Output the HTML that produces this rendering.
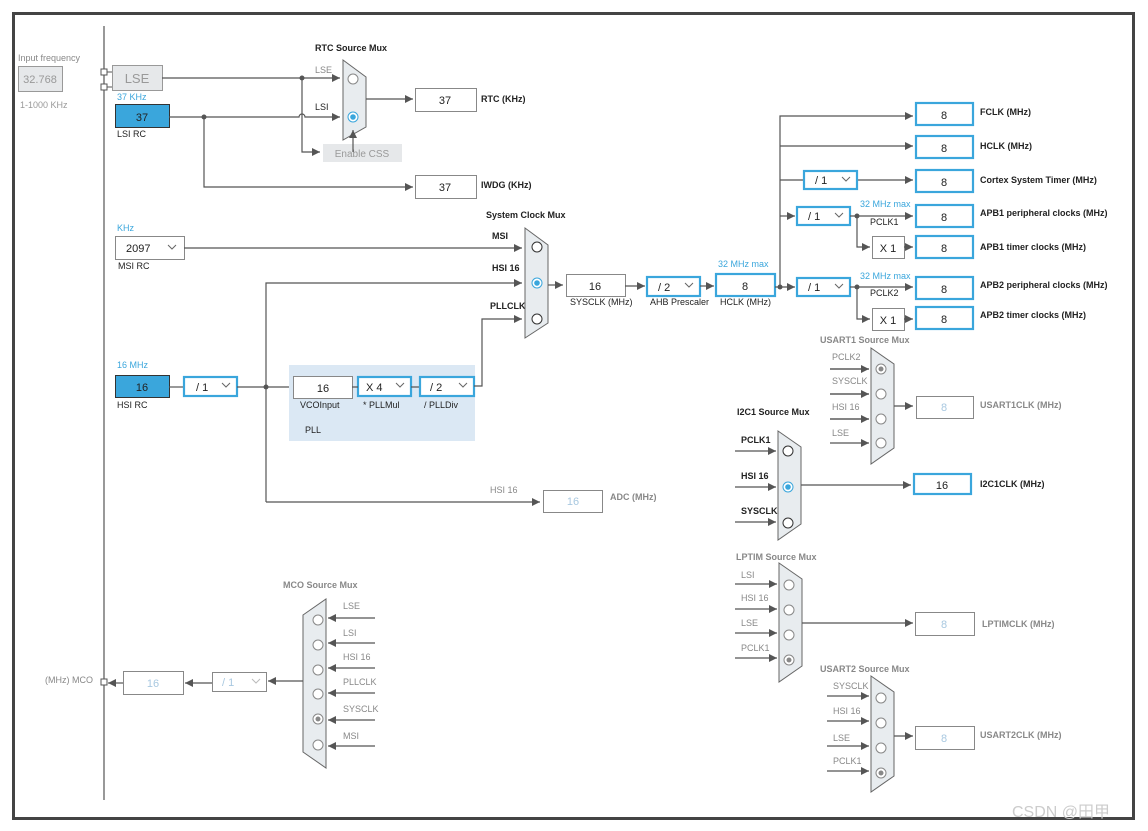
<!DOCTYPE html>
<html><head><meta charset="utf-8"><style>
body{margin:0;background:#fff}
svg{display:block}
text{font-family:"Liberation Sans","Noto Sans CJK SC",sans-serif;font-size:9px;fill:#222}
.b{font-weight:bold}
.g{fill:#888}
.bl{fill:#3aa6dc}
.num{font-size:11px;text-anchor:middle}
.gn{font-size:11px;text-anchor:middle;fill:#a8c8e0}
.ln{stroke:#555;stroke-width:1.2;fill:none}
.box{fill:#fff;stroke:#888;stroke-width:1}
.bbox{fill:#fff;stroke:#3aa6dc;stroke-width:2.2}
.mux{fill:#e8ecef;stroke:#666;stroke-width:1}
.c{fill:#fff;stroke:#333;stroke-width:1}
.cg{fill:#fff;stroke:#888;stroke-width:1}
.chev{stroke:#666;fill:none;stroke-width:1}
</style></head><body>
<svg width="1148" height="831" viewBox="0 0 1148 831" xmlns="http://www.w3.org/2000/svg">
<defs>
<marker id="a" viewBox="0 0 10 10" refX="10" refY="5" markerWidth="8" markerHeight="8" markerUnits="userSpaceOnUse" orient="auto"><path d="M0,0 L10,5 L0,10 z" fill="#555"/></marker>
</defs>
<rect x="13.5" y="13.5" width="1120" height="805" fill="none" stroke="#444" stroke-width="3"/>
<line x1="104" y1="26" x2="104" y2="800" stroke="#555" stroke-width="1.2"/>

<!-- input freq -->
<text x="18" y="61" class="g">Input frequency</text>
<rect x="18.5" y="66.5" width="44" height="25" fill="#e6e8ea" stroke="#999"/>
<text x="40" y="83" class="gn" style="fill:#999">32.768</text>
<text x="20" y="108" class="g" style="fill:#999">1-1000 KHz</text>
<rect x="101" y="69" width="6" height="6" fill="#fff" stroke="#555"/>
<rect x="101" y="84" width="6" height="6" fill="#fff" stroke="#555"/>
<line x1="107" y1="72" x2="112" y2="72" stroke="#555"/><line x1="107" y1="87" x2="112" y2="87" stroke="#555"/>
<rect x="112.5" y="65.5" width="50" height="25" fill="#e6e8ea" stroke="#999"/>
<text x="137" y="83" class="gn" style="fill:#999;font-size:13px">LSE</text>
<text x="117" y="100" class="bl">37 KHz</text>
<rect x="115.5" y="104.5" width="54" height="23" fill="#3aa6dc" stroke="#333"/>
<text x="142" y="121" class="num">37</text>
<text x="117" y="137">LSI RC</text>

<!-- RTC -->
<path class="ln" d="M162,78 H340" marker-end="url(#a)"/>
<path class="ln" d="M169,117 H299 a3,3 0 0 1 6,0 H340" marker-end="url(#a)"/>
<circle cx="302" cy="78" r="2.5" fill="#555"/><circle cx="204" cy="117" r="2.5" fill="#555"/>
<path class="ln" d="M302,78 V152 H320" marker-end="url(#a)"/>
<rect x="323" y="144" width="79" height="18" fill="#e6e8ea"/>
<text x="362" y="157" class="g" style="text-anchor:middle;font-size:10px;fill:#999">Enable CSS</text>
<text x="315" y="51" class="b">RTC Source Mux</text>
<text x="315" y="73" class="g">LSE</text><text x="315" y="110">LSI</text>
<polygon class="mux" points="343,60 366,77 366,127 343,140"/>
<path class="ln" d="M353,152 V130" marker-end="url(#a)"/>
<circle class="cg" cx="353" cy="79" r="5"/>
<circle cx="353" cy="117" r="5" fill="#fff" stroke="#3aa6dc"/><circle cx="353" cy="117" r="2.8" fill="#3aa6dc"/>
<path class="ln" d="M366,99 H413" marker-end="url(#a)"/>
<rect class="box" x="415.5" y="88.5" width="61" height="23"/><text x="445" y="104" class="num">37</text>
<text x="481" y="102" class="b">RTC (KHz)</text>
<path class="ln" d="M204,117 V187 H413" marker-end="url(#a)"/>
<rect class="box" x="415.5" y="175.5" width="61" height="23"/><text x="445" y="191" class="num">37</text>
<text x="481" y="188" class="b">IWDG (KHz)</text>

<!-- MSI -->
<text x="117" y="231" class="bl">KHz</text>
<rect class="box" x="115.5" y="236.5" width="69" height="23"/>
<text x="126" y="252" style="font-size:11px">2097</text><path class="chev" d="M168,245 l4,4 l4,-4"/>
<text x="118" y="269">MSI RC</text>
<path class="ln" d="M184,248 H522" marker-end="url(#a)"/>

<!-- sys mux -->
<text x="486" y="218" class="b">System Clock Mux</text>
<text x="492" y="239" class="b">MSI</text><text x="492" y="271" class="b">HSI 16</text><text x="490" y="309" class="b">PLLCLK</text>
<polygon class="mux" points="525,228 548,245 548,323 525,338"/>
<circle class="c" cx="537" cy="247" r="5"/>
<circle cx="537" cy="283" r="5" fill="#fff" stroke="#3aa6dc"/><circle cx="537" cy="283" r="2.8" fill="#3aa6dc"/>
<circle class="c" cx="537" cy="319" r="5"/>

<!-- HSI -->
<text x="117" y="368" class="bl">16 MHz</text>
<rect x="115.5" y="375.5" width="54" height="22" fill="#3aa6dc" stroke="#333"/>
<text x="142" y="391" class="num">16</text>
<text x="117" y="408">HSI RC</text>
<path class="ln" d="M169,387 H184"/>
<rect class="bbox" x="184" y="377" width="53" height="19"/><text x="196" y="391" style="font-size:11px">/ 1</text><path class="chev" d="M222,383 l4,4 l4,-4"/>
<path class="ln" d="M237,387 H293"/>
<circle cx="266" cy="387" r="2.5" fill="#555"/>
<path class="ln" d="M266,502 V283 H522" marker-end="url(#a)"/>
<path class="ln" d="M266,502 H540" marker-end="url(#a)"/>
<text x="490" y="493" class="g">HSI 16</text>
<rect class="box" x="543.5" y="490.5" width="59" height="22"/><text x="573" y="505" class="gn">16</text>
<text x="610" y="500" class="b g">ADC (MHz)</text>

<!-- PLL -->
<rect x="289" y="365" width="186" height="76" fill="#dbe8f4"/>
<rect class="box" x="293.5" y="376.5" width="59" height="22"/><text x="323" y="392" class="num">16</text>
<rect class="bbox" x="358" y="377" width="53" height="19"/><text x="366" y="391" style="font-size:11px">X 4</text><path class="chev" d="M396,383 l4,4 l4,-4"/>
<path class="ln" d="M352,387 H358 M411,387 H420"/>
<rect class="bbox" x="420" y="377" width="54" height="19"/><text x="430" y="391" style="font-size:11px">/ 2</text><path class="chev" d="M459,383 l4,4 l4,-4"/>
<text x="300" y="408">VCOInput</text><text x="363" y="408">* PLLMul</text><text x="424" y="408">/ PLLDiv</text>
<text x="305" y="433">PLL</text>
<path class="ln" d="M474,386 H482 V319 H522" marker-end="url(#a)"/>

<!-- sysclk chain -->
<path class="ln" d="M548,285 H563" marker-end="url(#a)"/>
<rect class="box" x="566.5" y="274.5" width="59" height="22"/><text x="595" y="290" class="num">16</text>
<text x="570" y="305">SYSCLK (MHz)</text>
<path class="ln" d="M625,286 H645" marker-end="url(#a)"/>
<rect class="bbox" x="647" y="277" width="53" height="19"/><text x="658" y="291" style="font-size:11px">/ 2</text><path class="chev" d="M685,283 l4,4 l4,-4"/>
<text x="650" y="305">AHB Prescaler</text>
<path class="ln" d="M700,286 H714" marker-end="url(#a)"/>
<rect class="bbox" x="716" y="274" width="59" height="22"/><text x="745" y="290" class="num">8</text>
<text x="718" y="267" class="bl">32 MHz max</text>
<text x="720" y="305">HCLK (MHz)</text>
<circle cx="780" cy="287" r="2.5" fill="#555"/>
<path class="ln" d="M775,287 H795" marker-end="url(#a)"/>
<path class="ln" d="M780,287 V116 H913" marker-end="url(#a)"/>
<path class="ln" d="M780,146 H913" marker-end="url(#a)"/>
<path class="ln" d="M780,180 H804 M857,180 H913" marker-end="url(#a)"/>
<path class="ln" d="M780,216 H795" marker-end="url(#a)"/>
<rect class="bbox" x="804" y="171" width="53" height="18"/><text x="815" y="184" style="font-size:11px">/ 1</text><path class="chev" d="M842,177 l4,4 l4,-4"/>
<rect class="bbox" x="797" y="207" width="53" height="18"/><text x="808" y="220" style="font-size:11px">/ 1</text><path class="chev" d="M835,213 l4,4 l4,-4"/>
<rect class="bbox" x="797" y="278" width="53" height="18"/><text x="808" y="291" style="font-size:11px">/ 1</text><path class="chev" d="M835,284 l4,4 l4,-4"/>
<path class="ln" d="M850,216 H913" marker-end="url(#a)"/>
<path class="ln" d="M850,287 H913" marker-end="url(#a)"/>
<circle cx="857" cy="216" r="2.5" fill="#555"/><circle cx="857" cy="287" r="2.5" fill="#555"/>
<path class="ln" d="M857,216 V247 H870" marker-end="url(#a)"/>
<path class="ln" d="M857,287 V319 H870" marker-end="url(#a)"/>
<rect class="box" x="872.5" y="236.5" width="32" height="22"/><text x="888" y="252" class="num">X 1</text>
<rect class="box" x="872.5" y="308.5" width="32" height="22"/><text x="888" y="324" class="num">X 1</text>
<path class="ln" d="M904,247 H913" marker-end="url(#a)"/>
<path class="ln" d="M904,319 H913" marker-end="url(#a)"/>
<text x="860" y="207" class="bl">32 MHz max</text><text x="870" y="225">PCLK1</text>
<text x="860" y="279" class="bl">32 MHz max</text><text x="870" y="296">PCLK2</text>
<rect class="bbox" x="916" y="103" width="57" height="22"/><text x="944" y="119" class="num">8</text>
<rect class="bbox" x="916" y="136" width="57" height="22"/><text x="944" y="152" class="num">8</text>
<rect class="bbox" x="916" y="170" width="57" height="22"/><text x="944" y="186" class="num">8</text>
<rect class="bbox" x="916" y="205" width="57" height="22"/><text x="944" y="221" class="num">8</text>
<rect class="bbox" x="916" y="236" width="57" height="22"/><text x="944" y="252" class="num">8</text>
<rect class="bbox" x="916" y="277" width="57" height="22"/><text x="944" y="293" class="num">8</text>
<rect class="bbox" x="916" y="307" width="57" height="22"/><text x="944" y="323" class="num">8</text>
<text x="980" y="115" class="b">FCLK (MHz)</text>
<text x="980" y="149" class="b">HCLK (MHz)</text>
<text x="980" y="183" class="b">Cortex System Timer (MHz)</text>
<text x="980" y="216" class="b">APB1 peripheral clocks (MHz)</text>
<text x="980" y="250" class="b">APB1 timer clocks (MHz)</text>
<text x="980" y="288" class="b">APB2 peripheral clocks (MHz)</text>
<text x="980" y="318" class="b">APB2 timer clocks (MHz)</text>

<!-- USART1 -->
<text x="820" y="343" class="b g">USART1 Source Mux</text>
<text x="832" y="360" class="g">PCLK2</text><text x="832" y="384" class="g">SYSCLK</text><text x="832" y="410" class="g">HSI 16</text><text x="832" y="436" class="g">LSE</text>
<path class="ln" d="M830,369 H869 M830,394 H869 M830,419 H869 M830,443 H869" marker-end="url(#a)"/>
<path class="ln" d="M830,369 H869" marker-end="url(#a)"/><path class="ln" d="M830,394 H869" marker-end="url(#a)"/><path class="ln" d="M830,419 H869" marker-end="url(#a)"/>
<polygon class="mux" points="871,348 894,364 894,448 871,464"/>
<circle class="cg" cx="881" cy="369" r="5"/><circle cx="881" cy="369" r="2.5" fill="#888"/>
<circle class="cg" cx="881" cy="394" r="5"/><circle class="cg" cx="881" cy="419" r="5"/><circle class="cg" cx="881" cy="443" r="5"/>
<path class="ln" d="M894,406 H913" marker-end="url(#a)"/>
<rect class="box" x="916.5" y="396.5" width="57" height="22"/><text x="944" y="411" class="gn">8</text>
<text x="980" y="408" class="b g">USART1CLK (MHz)</text>

<!-- I2C1 -->
<text x="737" y="415" class="b">I2C1 Source Mux</text>
<text x="741" y="443" class="b">PCLK1</text><text x="741" y="479" class="b">HSI 16</text><text x="741" y="514" class="b">SYSCLK</text>
<path class="ln" d="M735,451 H776" marker-end="url(#a)"/><path class="ln" d="M735,487 H776" marker-end="url(#a)"/><path class="ln" d="M735,522 H776" marker-end="url(#a)"/>
<polygon class="mux" points="778,431 801,447 801,524 778,540"/>
<circle class="c" cx="788" cy="451" r="5"/>
<circle cx="788" cy="487" r="5" fill="#fff" stroke="#3aa6dc"/><circle cx="788" cy="487" r="2.8" fill="#3aa6dc"/>
<circle class="c" cx="788" cy="523" r="5"/>
<path class="ln" d="M801,485 H911" marker-end="url(#a)"/>
<rect class="bbox" x="914" y="474" width="57" height="20"/><text x="942" y="489" class="num">16</text>
<text x="980" y="487" class="b">I2C1CLK (MHz)</text>

<!-- LPTIM -->
<text x="736" y="560" class="b g">LPTIM Source Mux</text>
<text x="741" y="578" class="g">LSI</text><text x="741" y="601" class="g">HSI 16</text><text x="741" y="626" class="g">LSE</text><text x="741" y="651" class="g">PCLK1</text>
<path class="ln" d="M735,584 H777" marker-end="url(#a)"/><path class="ln" d="M735,609 H777" marker-end="url(#a)"/><path class="ln" d="M735,633 H777" marker-end="url(#a)"/><path class="ln" d="M735,658 H777" marker-end="url(#a)"/>
<polygon class="mux" points="779,563 802,579 802,666 779,682"/>
<circle class="cg" cx="789" cy="585" r="5"/><circle class="cg" cx="789" cy="610" r="5"/><circle class="cg" cx="789" cy="635" r="5"/>
<circle class="cg" cx="789" cy="660" r="5"/><circle cx="789" cy="660" r="2.5" fill="#888"/>
<path class="ln" d="M802,623 H913" marker-end="url(#a)"/>
<rect class="box" x="915.5" y="612.5" width="59" height="23"/><text x="944" y="628" class="gn">8</text>
<text x="982" y="627" class="b g">LPTIMCLK (MHz)</text>

<!-- USART2 -->
<text x="820" y="672" class="b g">USART2 Source Mux</text>
<text x="833" y="689" class="g">SYSCLK</text><text x="833" y="714" class="g">HSI 16</text><text x="833" y="741" class="g">LSE</text><text x="833" y="764" class="g">PCLK1</text>
<path class="ln" d="M827,696 H869" marker-end="url(#a)"/><path class="ln" d="M827,721 H869" marker-end="url(#a)"/><path class="ln" d="M827,746 H869" marker-end="url(#a)"/><path class="ln" d="M827,771 H869" marker-end="url(#a)"/>
<polygon class="mux" points="871,676 894,692 894,776 871,792"/>
<circle class="cg" cx="881" cy="698" r="5"/><circle class="cg" cx="881" cy="723" r="5"/><circle class="cg" cx="881" cy="748" r="5"/>
<circle class="cg" cx="881" cy="773" r="5"/><circle cx="881" cy="773" r="2.5" fill="#888"/>
<path class="ln" d="M894,736 H913" marker-end="url(#a)"/>
<rect class="box" x="915.5" y="726.5" width="59" height="23"/><text x="944" y="742" class="gn">8</text>
<text x="980" y="738" class="b g">USART2CLK (MHz)</text>

<!-- MCO -->
<text x="283" y="588" class="b g">MCO Source Mux</text>
<polygon class="mux" points="303,615 326,599 326,768 303,752"/>
<text x="343" y="609" class="g">LSE</text><text x="343" y="636" class="g">LSI</text><text x="343" y="660" class="g">HSI 16</text><text x="343" y="685" class="g">PLLCLK</text><text x="343" y="712" class="g">SYSCLK</text><text x="343" y="739" class="g">MSI</text>
<path class="ln" d="M375,618 H328" marker-end="url(#a)"/><path class="ln" d="M375,643 H328" marker-end="url(#a)"/><path class="ln" d="M375,668 H328" marker-end="url(#a)"/><path class="ln" d="M375,693 H328" marker-end="url(#a)"/><path class="ln" d="M375,720 H328" marker-end="url(#a)"/><path class="ln" d="M375,746 H328" marker-end="url(#a)"/>
<circle class="cg" cx="318" cy="620" r="5"/><circle class="cg" cx="318" cy="645" r="5"/><circle class="cg" cx="318" cy="670" r="5"/><circle class="cg" cx="318" cy="694" r="5"/>
<circle class="cg" cx="318" cy="719" r="5"/><circle cx="318" cy="719" r="2.5" fill="#888"/>
<circle class="cg" cx="318" cy="745" r="5"/>
<path class="ln" d="M303,681 H268" marker-end="url(#a)"/>
<rect class="box" x="212.5" y="672.5" width="54" height="19"/><text x="222" y="686" style="font-size:11px;fill:#a8c8e0">/ 1</text><path class="chev" d="M252,679 l4,4 l4,-4" style="stroke:#bbb"/>
<path class="ln" d="M212,683 H185" marker-end="url(#a)"/>
<rect class="box" x="123.5" y="671.5" width="60" height="23"/><text x="153" y="687" class="gn">16</text>
<path class="ln" d="M123,683 H108" marker-end="url(#a)"/>
<path d="M116,679 l-5,4 l5,4z" fill="#555"/>
<rect x="101" y="679" width="6" height="6" fill="#fff" stroke="#555"/>
<text x="45" y="683" class="g">(MHz) MCO</text>

<text x="1012" y="817" style="font-size:16px;fill:#ccc">CSDN @田甲</text>
</svg>
</body></html>
